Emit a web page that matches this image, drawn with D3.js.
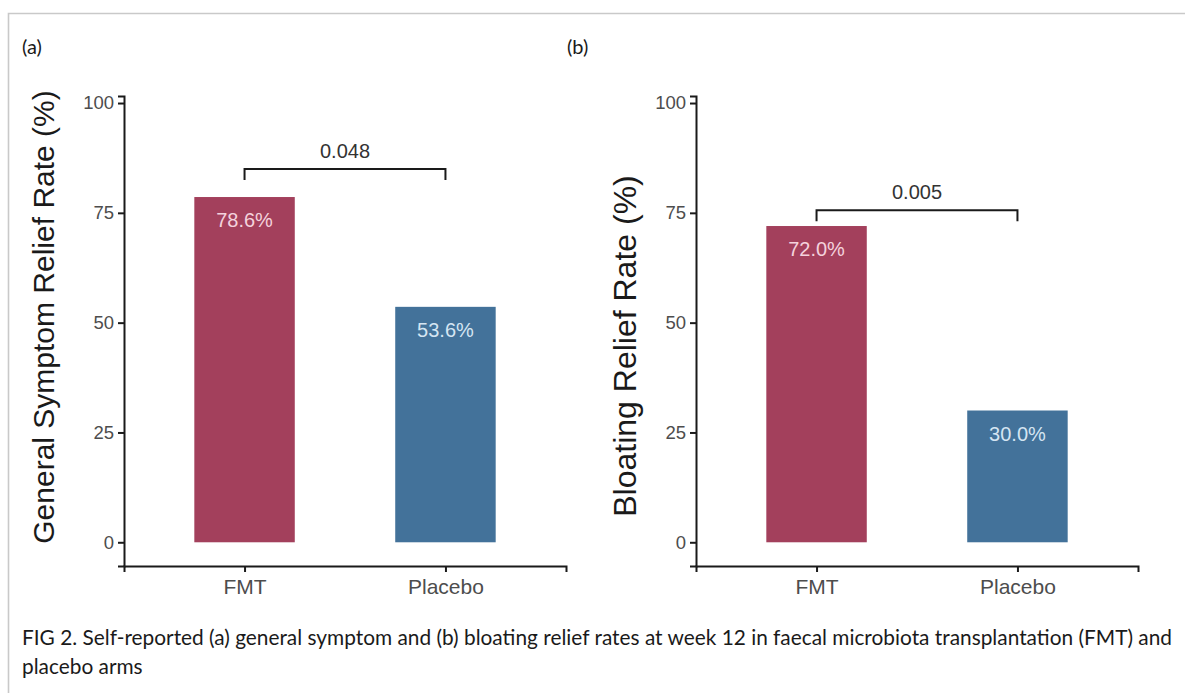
<!DOCTYPE html>
<html>
<head>
<meta charset="utf-8">
<script src="https://cdn.jsdelivr.net/npm/d3@7/dist/d3.min.js"></script>
<style>
  html, body { margin: 0; padding: 0; background: #fff; }
  svg { display: block; }
</style>
</head>
<body>
<svg id="fig" width="1185" height="693"></svg>
<script>
// Relief rates at week 12, by treatment arm
const categories = ["FMT", "Placebo"];
const symptomRelief = [78.6, 53.6];
const bloatingRelief = [72.0, 30.0];
const yTicks = [0, 25, 50, 75, 100];
const pValues = ["0.048", "0.005"];
const panelLabels = ["(a)", "(b)"];
const yTitles = ["General Symptom Relief Rate (%)", "Bloating Relief Rate (%)"];
const captionLines = [
  "FIG 2. Self-reported (a) general symptom and (b) bloating relief rates at week 12 in faecal microbiota transplantation (FMT) and",
  "placebo arms"
];

const barColors = ["#a3405c", "#43729a"];
const barTextColors = ["#f4d2dc", "#d5e5f2"];
const sansFont = "'Liberation Sans', Arial, Helvetica, sans-serif";
const captionFont = "Lato, 'Open Sans', sans-serif";

const svg = d3.select("#fig");

// frame lines along the top and left edges
svg.append("path")
  .attr("d", "M8.5,693V13.5H1185")
  .attr("fill", "none")
  .attr("stroke", "#c9c9c9")
  .attr("stroke-width", 1.6);

// shared vertical scale (ggplot-like expansion below 0)
const y = d3.scaleLinear().domain([-5.4, 101.6]).range([566, 96]);

const panels = [
  { left: 124, values: symptomRelief, title: yTitles[0], titleSize: 30, titleX: 54, titleY: 317,
    p: pValues[0], tag: panelLabels[0], tagX: 22, bracket: 85, bracketEnd: 82.5 },
  { left: 696, values: bloatingRelief, title: yTitles[1], titleSize: 32, titleX: 636, titleY: 346,
    p: pValues[1], tag: panelLabels[1], tagX: 567, bracket: 75.6, bracketEnd: 73.1 }
];

panels.forEach(pn => {
  const g = svg.append("g");
  // discrete positions 1..n with 0.6 expansion on each side
  const x = d3.scaleLinear().domain([0.4, categories.length + 0.6]).range([pn.left, pn.left + 442]);
  const bw = x(1.5) - x(1);

  // bars
  g.selectAll("rect.bar")
    .data(pn.values)
    .join("rect")
    .attr("class", "bar")
    .attr("x", (d, i) => x(i + 1) - bw / 2)
    .attr("width", bw)
    .attr("y", d => y(d))
    .attr("height", d => y(0) - y(d))
    .attr("fill", (d, i) => barColors[i]);

  // value labels inside bar tops
  g.selectAll("text.val")
    .data(pn.values)
    .join("text")
    .attr("class", "val")
    .attr("x", (d, i) => x(i + 1))
    .attr("y", d => y(d) + 30)
    .attr("text-anchor", "middle")
    .attr("font-family", sansFont)
    .attr("font-size", 20)
    .attr("fill", (d, i) => barTextColors[i])
    .text(d => d3.format(".1f")(d) + "%");

  // y axis
  const ya = g.append("g")
    .attr("transform", `translate(${pn.left},0)`)
    .call(d3.axisLeft(y).tickValues(yTicks).tickSizeOuter(0).tickSize(6).tickPadding(4));
  // x axis
  const xa = g.append("g")
    .attr("transform", `translate(0,${y(-5.4)})`)
    .call(d3.axisBottom(x).tickValues(d3.range(1, categories.length + 1))
      .tickFormat(i => categories[i - 1]).tickSizeOuter(0).tickSize(6).tickPadding(7));

  [ya, xa].forEach(a => {
    a.select(".domain").attr("stroke", "#1a1a1a").attr("stroke-width", 2);
    a.selectAll(".tick line").attr("stroke", "#1a1a1a").attr("stroke-width", 2);
    a.selectAll(".tick text").attr("font-family", sansFont).attr("fill", "#4d4d4d");
  });
  ya.selectAll(".tick text").attr("font-size", 18.5);
  xa.selectAll(".tick text").attr("font-size", 21);

  // y title
  g.append("text")
    .attr("transform", `translate(${pn.titleX},${pn.titleY}) rotate(-90)`)
    .attr("text-anchor", "middle")
    .attr("font-family", sansFont)
    .attr("font-size", pn.titleSize)
    .attr("fill", "#1a1a1a")
    .text(pn.title);

  // significance bracket
  const bx1 = x(1), bx2 = x(2);
  g.append("path")
    .attr("d", `M${bx1},${y(pn.bracketEnd)}V${y(pn.bracket)}H${bx2}V${y(pn.bracketEnd)}`)
    .attr("fill", "none")
    .attr("stroke", "#1a1a1a")
    .attr("stroke-width", 2);
  g.append("text")
    .attr("x", (bx1 + bx2) / 2)
    .attr("y", y(pn.bracket) - 11)
    .attr("text-anchor", "middle")
    .attr("font-family", sansFont)
    .attr("font-size", 20)
    .attr("fill", "#333")
    .text(pn.p);

  // panel tag
  svg.append("text")
    .attr("x", pn.tagX)
    .attr("y", 54)
    .attr("font-family", captionFont)
    .attr("font-size", 20)
    .attr("fill", "#1a1a1a")
    .text(pn.tag);
});

// caption, condensed to the figure width
const cap = svg.append("g").attr("font-family", captionFont).attr("font-size", 21).attr("fill", "#1a1a1a");
const l1 = cap.append("text").attr("x", 22).attr("y", 645).text(captionLines[0]);
const natural = l1.node().getComputedTextLength();
const ratio = 1150 / natural;
l1.attr("textLength", 1150).attr("lengthAdjust", "spacingAndGlyphs");
const l2 = cap.append("text").attr("x", 22).attr("y", 674).text(captionLines[1]);
l2.attr("textLength", l2.node().getComputedTextLength() * ratio).attr("lengthAdjust", "spacingAndGlyphs");
</script>
</body>
</html>
